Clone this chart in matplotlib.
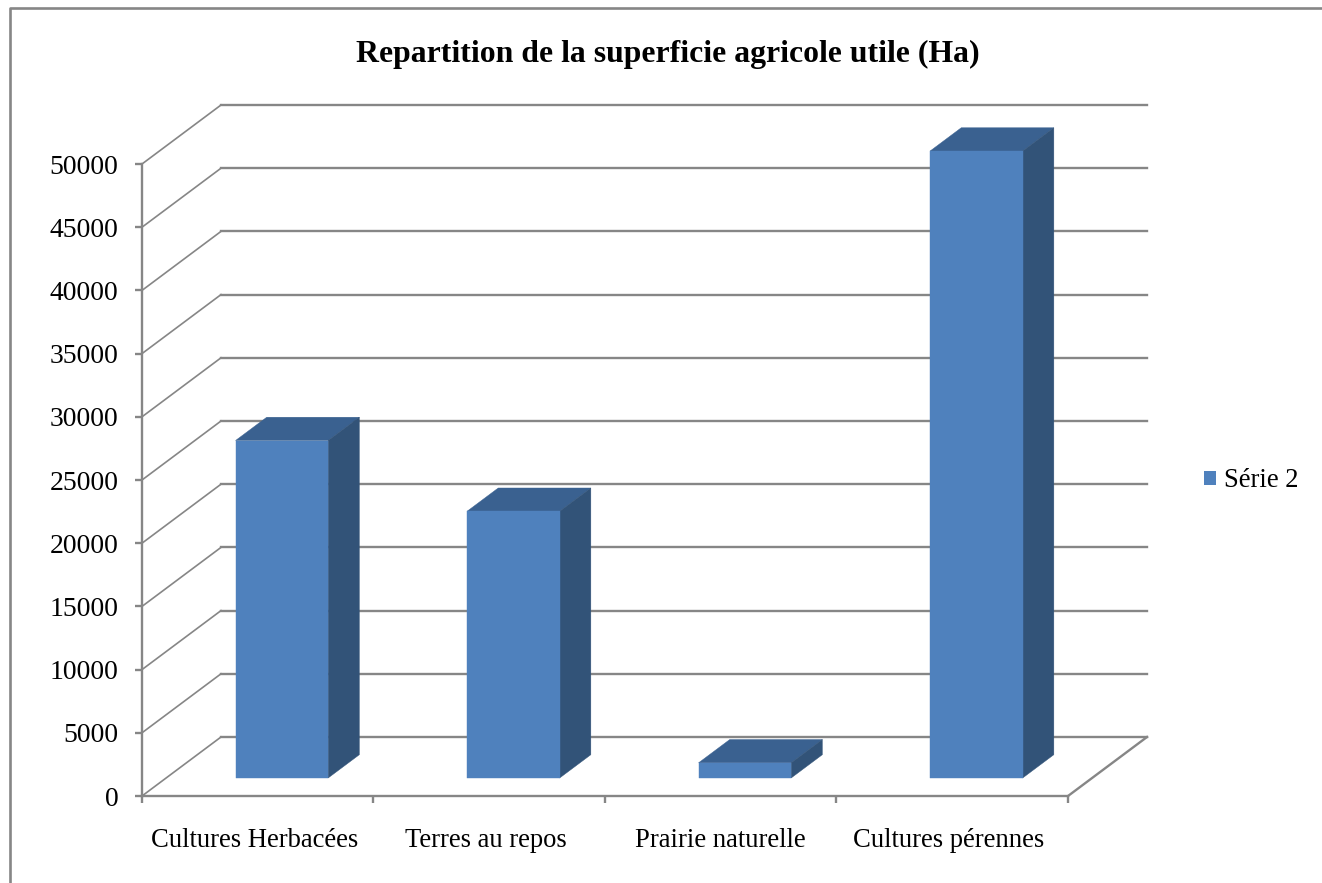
import matplotlib
matplotlib.use("Agg")
import matplotlib.pyplot as plt
from matplotlib.lines import Line2D
from matplotlib.patches import Patch, Polygon
from matplotlib.transforms import ScaledTranslation

plt.rcParams['font.family'] = ['Liberation Serif', 'DejaVu Serif']

categories = ["Cultures Herbacées", "Terres au repos", "Prairie naturelle", "Cultures pérennes"]
values = [26700, 21100, 1200, 49600]
y_ticks = [0, 5000, 10000, 15000, 20000, 25000, 30000, 35000, 40000, 45000, 50000]
series_name = "Série 2"

FRONT = "#4F81BD"
TOP = "#3A6190"
SIDE = "#325378"
GRID = "#868686"

W, H = 1322, 883
# front plane of the 3D box, in pixels
LEFT, RIGHT, BASE, TOP_Y = 142, 1068, 796, 164
# depth of the box, as an offset in data units
DEPTH_X = 79 / ((RIGHT - LEFT) / 4)
DEPTH_Y = 59 / ((BASE - TOP_Y) / 50000)
BAR_WIDTH = 0.4
Z0, Z1 = 0.305, 0.70
# small sideways nudge of the category labels, in pixels
LABEL_SHIFT = [-3.5, -3, 0, -3.5]


def proj(x, y, z):
    # oblique projection used by the old 3D column charts
    return x + z * DEPTH_X, y + z * DEPTH_Y


def face(ax, pts, color, zorder):
    ax.add_patch(Polygon(pts, closed=True, facecolor=color, edgecolor=color,
                         linewidth=0.3, clip_on=False, zorder=zorder))


fig = plt.figure(figsize=(W / 100, H / 100), dpi=100)
ax = fig.add_axes([LEFT / W, (H - BASE) / H, (RIGHT - LEFT) / W, (BASE - TOP_Y) / H])
ax.set_xlim(0, 4)
ax.set_ylim(0, 50000)
for s in ax.spines.values():
    s.set_visible(False)

# walls and floor
for v in y_ticks:
    bx, by = proj(0, v, 1)
    ax.plot([0, bx], [v, by], color=GRID, lw=1.2, clip_on=False, zorder=1)
    ax.plot([bx, bx + 4], [by, by], color=GRID, lw=1.7, clip_on=False, zorder=1)
ax.plot([0, 0], [0, 50000], color=GRID, lw=1.7, clip_on=False, zorder=2)
ax.plot([0, 4], [0, 0], color=GRID, lw=1.7, clip_on=False, zorder=2)
ax.plot([4, 4 + DEPTH_X], [0, DEPTH_Y], color=GRID, lw=1.7, clip_on=False, zorder=2)

# bars
for i, v in enumerate(values):
    x0 = i + 0.5 - BAR_WIDTH / 2
    x1 = i + 0.5 + BAR_WIDTH / 2
    face(ax, [proj(x0, v, Z0), proj(x1, v, Z0), proj(x1, v, Z1), proj(x0, v, Z1)], TOP, 3)
    face(ax, [proj(x1, 0, Z0), proj(x1, 0, Z1), proj(x1, v, Z1), proj(x1, v, Z0)], SIDE, 3)
    face(ax, [proj(x0, 0, Z0), proj(x1, 0, Z0), proj(x1, v, Z0), proj(x0, v, Z0)], FRONT, 4)

# axes ticks
ax.set_yticks(y_ticks)
ax.set_xticks(range(5))
ax.set_xticklabels([])
ax.set_xticks([i + 0.5 for i in range(4)], categories, minor=True)
ax.tick_params(axis="y", which="major", length=5, width=1.7, color=GRID, labelsize=19.9, pad=12)
ax.tick_params(axis="x", which="major", length=5, width=1.7, color=GRID)
ax.tick_params(axis="x", which="minor", length=0, labelsize=19.15, pad=23)
for lbl, shift in zip(ax.get_xticklabels(minor=True), LABEL_SHIFT):
    lbl.set_transform(lbl.get_transform() + ScaledTranslation(shift / 100, 0, fig.dpi_scale_trans))

fig.text(668 / W, 1 - 54 / H, "Repartition de la superficie agricole utile (Ha)",
         ha="center", va="center", fontsize=22.9, fontweight="bold")

fig.legend(handles=[Patch(facecolor=FRONT, label=series_name)], loc="center left",
           bbox_to_anchor=(1204 / W, 1 - 481 / H), frameon=False, fontsize=19.15,
           handlelength=0.45, handleheight=0.45, handletextpad=0.3,
           borderpad=0, borderaxespad=0)

# chart border, only the top and left edges are in the picture
fig.add_artist(Line2D([1, 10 / W, 10 / W], [1 - 8 / H, 1 - 8 / H, 0],
                      transform=fig.transFigure, color=GRID, lw=1.9))

fig.savefig("out.png", dpi=100)
